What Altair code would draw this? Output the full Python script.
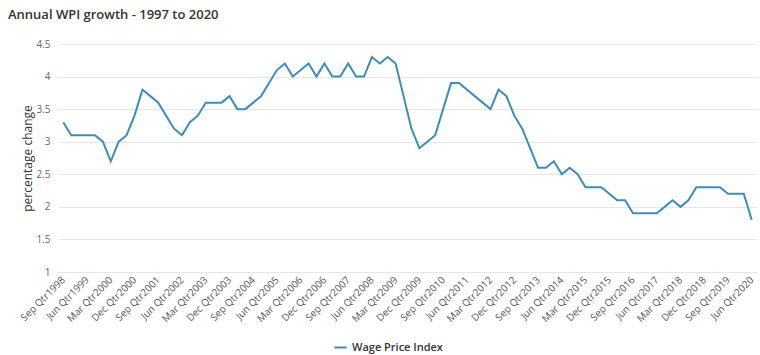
import altair as alt
import pandas as pd

# Quarter labels: Sep Qtr1998 ... Jun Qtr2020
months = ["Mar", "Jun", "Sep", "Dec"]
start_year, start_q = 1998, 2   # Sep quarter index 2
n_quarters = 88
quarters = []
for k in range(n_quarters):
    q = (start_q + k) % 4
    y = start_year + (start_q + k) // 4
    quarters.append(f"{months[q]} Qtr{y}")

wpi = [3.3, 3.1, 3.1, 3.1, 3.1, 3.0, 2.7, 3.0, 3.1, 3.4,
       3.8, 3.7, 3.6, 3.4, 3.2, 3.1, 3.3, 3.4, 3.6, 3.6,
       3.6, 3.7, 3.5, 3.5, 3.6, 3.7, 3.9, 4.1, 4.2, 4.0,
       4.1, 4.2, 4.0, 4.2, 4.0, 4.0, 4.2, 4.0, 4.0, 4.3,
       4.2, 4.3, 4.2, 3.7, 3.2, 2.9, 3.0, 3.1, 3.5, 3.9,
       3.9, 3.8, 3.7, 3.6, 3.5, 3.8, 3.7, 3.4, 3.2, 2.9,
       2.6, 2.6, 2.7, 2.5, 2.6, 2.5, 2.3, 2.3, 2.3, 2.2,
       2.1, 2.1, 1.9, 1.9, 1.9, 1.9, 2.0, 2.1, 2.0, 2.1,
       2.3, 2.3, 2.3, 2.3, 2.2, 2.2, 2.2, 1.8]

tick_labels = quarters[::3]
y_ticks = [1, 1.5, 2, 2.5, 3, 3.5, 4, 4.5]
series_name = "Wage Price Index"

df = pd.DataFrame({"quarter": quarters, "value": wpi, "series": series_name})

FONT = "Open Sans"

chart = alt.Chart(df).mark_line(strokeWidth=2).encode(
    x=alt.X("quarter:N", sort=quarters,
            scale=alt.Scale(type="point", padding=0.67),
            axis=alt.Axis(values=tick_labels, title=None, labelAngle=-45,
                          labelAlign="right", labelBaseline="middle",
                          labelPadding=6, ticks=False, domain=False, grid=False,
                          labelFontSize=10, labelColor="#555555", labelFont=FONT)),
    y=alt.Y("value:Q", scale=alt.Scale(domain=[1, 4.5], nice=False, zero=False),
            axis=alt.Axis(values=y_ticks, format="~g", title="percentage change",
                          titleFontSize=12, titleFontWeight="normal",
                          titleColor="#333333", titleFont=FONT, titlePadding=1,
                          labelFontSize=10, labelColor="#666666", labelFont=FONT,
                          labelPadding=8, ticks=False, domain=False,
                          grid=True, gridColor="#e6e6e6", gridWidth=1)),
    color=alt.Color("series:N", scale=alt.Scale(range=["#3d8db8"]),
                    legend=alt.Legend(title=None, orient="none",
                                      legendX=275, legendY=296,
                                      symbolType="stroke", symbolStrokeWidth=2,
                                      symbolSize=150, labelFontSize=11,
                                      labelFontWeight=600, labelColor="#333333",
                                      labelFont=FONT)),
).properties(
    width=699, height=228,
    title=alt.TitleParams("Annual WPI growth - 1997 to 2020", anchor="start",
                          frame="group", dx=-50, offset=17, fontSize=13,
                          fontWeight=600, color="#333333", font=FONT),
    autosize=alt.AutoSizeParams(type="none"),
    padding={"left": 58, "top": 44, "right": 3, "bottom": 83},
).configure_view(stroke=None)

chart.save("out.html", embed_options={"renderer": "svg", "actions": False})
